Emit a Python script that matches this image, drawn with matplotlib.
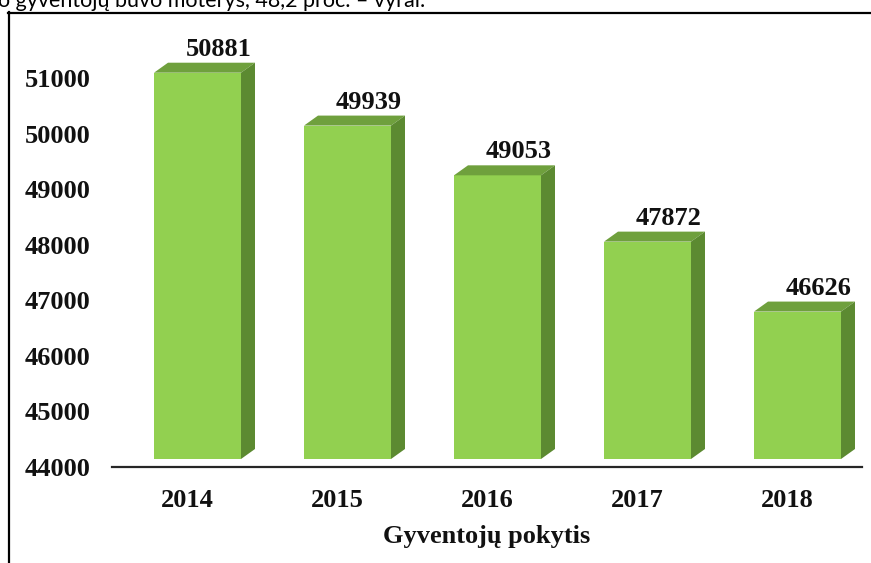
import matplotlib
matplotlib.use("Agg")
import matplotlib.pyplot as plt
import numpy as np
from matplotlib.patches import Polygon
from matplotlib.lines import Line2D
from matplotlib.transforms import ScaledTranslation, IdentityTransform

years = ["2014", "2015", "2016", "2017", "2018"]
population = [50881, 49939, 49053, 47872, 46626]
y_ticks = [44000, 45000, 46000, 47000, 48000, 49000, 50000, 51000]
x_title = "Gyventojų pokytis"
top_text = "o gyventojų buvo moterys, 48,2 proc. – vyrai."

W, H = 871, 563
DPI = 100
fig = plt.figure(figsize=(W / DPI, H / DPI), dpi=DPI)
fig.patch.set_facecolor("white")

def fx(px):
    return px / W

def fy(py):
    return 1 - py / H

serif = ["Liberation Serif", "DejaVu Serif"]
FS = 19

# axes geometry (pixels from top-left)
ax_left, ax_right = 112, 862
ax_bottom_px, ax_top_px = 467, 50.2
rect = [fx(ax_left), fy(ax_bottom_px), (ax_right - ax_left) / W, (ax_bottom_px - ax_top_px) / H]

ax = fig.add_axes(rect)
ax.set_xlim(-0.5, 4.5)
ax.set_ylim(44000, 51500)
ax.set_facecolor("none")
for s in ["top", "left", "right"]:
    ax.spines[s].set_visible(False)
ax.spines["bottom"].set_linewidth(1.6)
ax.spines["bottom"].set_color("#262626")
ax.set_yticks(y_ticks)
ax.set_yticklabels([str(t) for t in y_ticks])
ax.set_xticks(range(len(years)))
ax.set_xticklabels(years)
ax.tick_params(axis="both", length=0)
ax.tick_params(axis="y", pad=15.5)
ax.tick_params(axis="x", pad=16)
for lab in ax.get_xticklabels() + ax.get_yticklabels():
    lab.set_fontfamily(serif)
    lab.set_fontweight("bold")
    lab.set_fontsize(FS)
    lab.set_color("#111111")
ax.set_xlabel(x_title, fontfamily=serif, fontweight="bold", fontsize=FS, labelpad=9, color="#111111")

# second axes for the 3D-looking bar front faces (slightly offset plane)
ax2 = fig.add_axes(rect, sharex=ax)
ax2.set_ylim(43857.5, 51281.8)
ax2.axis("off")
ax2.set_facecolor("none")

shift = ScaledTranslation(10.5 / DPI, 0, fig.dpi_scale_trans)
width = 0.58
base = 44000
front_c = "#92D050"
top_c = "#6FA03D"
side_c = "#5C8A31"
dx, dy = 14, 10

xs = np.arange(len(years))
bars = ax2.bar(xs, [v - base for v in population], bottom=base, width=width,
               color=front_c, edgecolor="none", zorder=3)
for b in bars:
    b.set_transform(ax2.transData + shift)

for x, v in zip(xs, population):
    (xl, yb) = ax2.transData.transform((x - width / 2, base))
    (xr, yt) = ax2.transData.transform((x + width / 2, v))
    xl += 10.5
    xr += 10.5
    top = Polygon([(xl, yt), (xr, yt), (xr + dx, yt + dy), (xl + dx, yt + dy)],
                  closed=True, facecolor=top_c, edgecolor="none",
                  transform=IdentityTransform(), zorder=3)
    side = Polygon([(xr, yb), (xr, yt), (xr + dx, yt + dy), (xr + dx, yb + dy)],
                   closed=True, facecolor=side_c, edgecolor="none",
                   transform=IdentityTransform(), zorder=3)
    fig.add_artist(top)
    fig.add_artist(side)
    ax2.annotate(str(v), xy=(x, v), xytext=(32, 17), textcoords="offset pixels",
                 ha="center", va="baseline", fontfamily=serif, fontweight="bold",
                 fontsize=FS, color="#111111", annotation_clip=False, zorder=5)

# frame lines
fig.add_artist(Line2D([fx(9), fx(9)], [fy(12), 0], color="black", linewidth=1.6))
fig.add_artist(Line2D([fx(8), 1], [fy(13), fy(13)], color="black", linewidth=1.6))

# cut-off sentence at the very top
fig.text(fx(-2), fy(7), top_text, fontfamily=["Lato", "DejaVu Sans"], fontsize=15.5,
         va="baseline", ha="left", color="black")

fig.savefig("out.png", dpi=DPI)
